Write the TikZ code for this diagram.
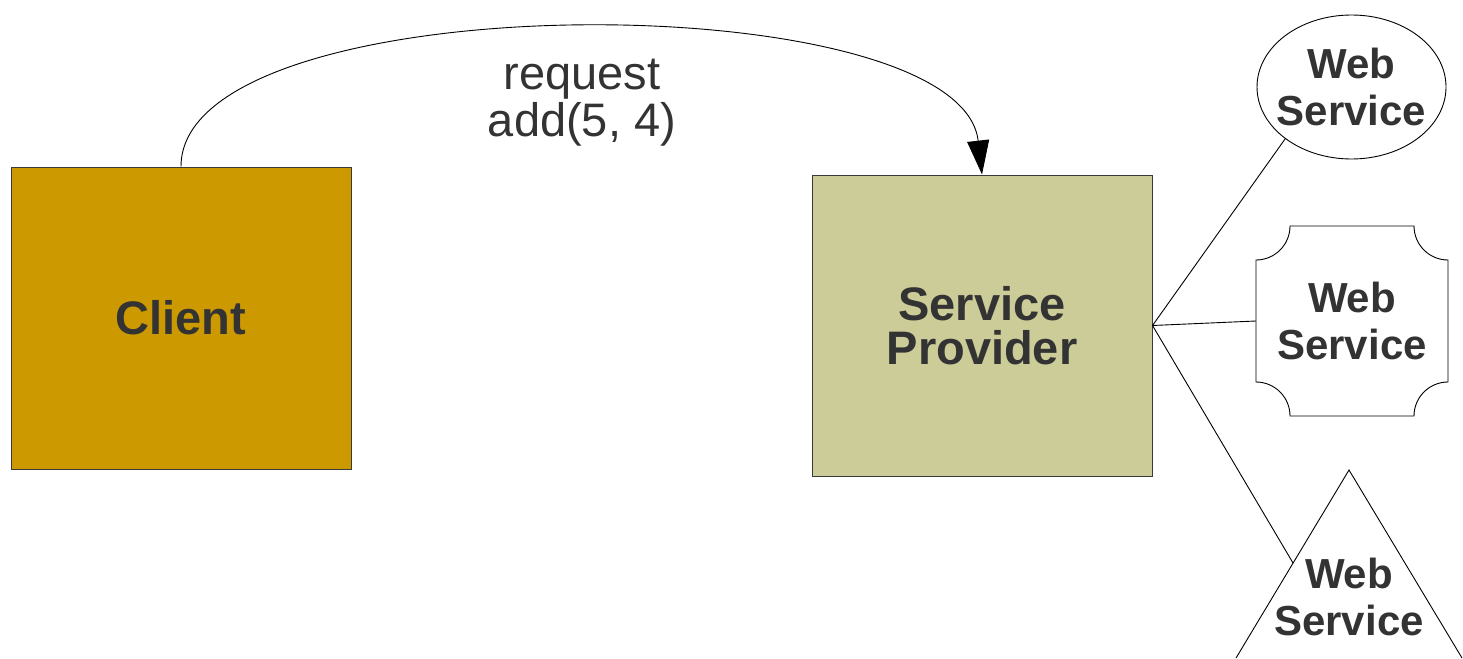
\documentclass[tikz,border=0pt]{standalone}
\usepackage{fontspec}
\setmainfont{Liberation Sans}
\usetikzlibrary{shapes.geometric,arrows.meta}
\definecolor{clientfill}{HTML}{CC9900}
\definecolor{providerfill}{HTML}{CCCC99}
\definecolor{ink}{HTML}{333333}
\definecolor{edge}{HTML}{3A3A3A}
\tikzset{
  box/.style={draw=edge, line width=1pt, minimum width=340pt, inner sep=0pt, text=ink,
              font=\fontsize{47}{44}\selectfont\bfseries, align=center},
  wstext/.style={text=ink, inner sep=0pt, align=center, font=\fontsize{42}{47}\selectfont\bfseries},
  wire/.style={line width=0.9pt, black},
}
\begin{document}
\begin{tikzpicture}[x=1pt,y=-1pt]
\useasboundingbox (0,0) rectangle (1463,658);

% main boxes
\node[box, fill=clientfill, minimum height=302pt] (client) at (181,318) {Client};
\node[box, fill=providerfill, minimum height=301pt] (provider) at (982,325.5) {Service\\Provider};

% request arc with its label
\draw[wire, -{Triangle[length=34pt,width=22pt]}] (client.north)
  .. controls (181,-18) and (960,-18) .. (provider.north);
\node[text=ink, align=center, font=\fontsize{47}{47}\selectfont] (req) at (582,103) {request\\add(5, 4)};

% web service: ellipse
\node[ellipse, draw, line width=0.9pt, minimum width=189pt, minimum height=144pt, inner sep=0pt] (ws1) at (1351.5,87) {};
\node[wstext] (ws1t) at (ws1.center) {Web\\Service};

% web service: box with concave corners
\draw[line width=0.9pt] (1290,226) -- (1414,226) arc[start angle=180, end angle=90, radius=34]
  -- (1448,382) arc[start angle=270, end angle=180, radius=34]
  -- (1290,416) arc[start angle=0, end angle=-90, radius=34]
  -- (1256,260) arc[start angle=90, end angle=0, radius=34] -- cycle;
\node[wstext, minimum width=192pt, minimum height=190pt] (ws2) at (1352,321) {Web\\Service};

% web service: triangle
\draw[line width=0.9pt] (1236,658) -- (1349,470) -- (1462,658);
\node[wstext] (ws3) at (1349,597) {Web\\Service};
\coordinate (ws3in) at (1293,563);

% links from the provider
\draw[wire] (provider.east) -- (ws1.218);
\draw[wire] (provider.east) -- (ws2.west);
\draw[wire] (provider.east) -- (ws3in);
\end{tikzpicture}
\end{document}
